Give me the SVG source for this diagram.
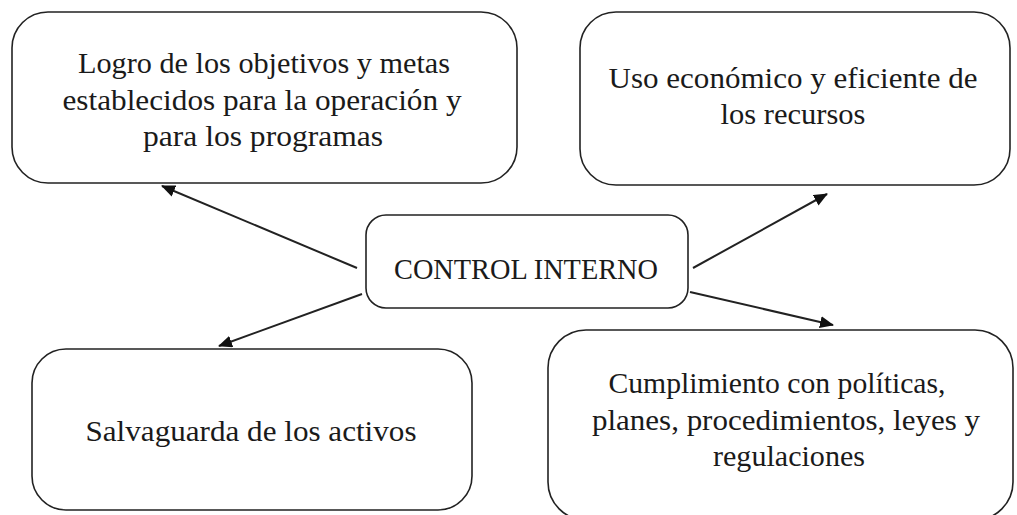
<svg xmlns="http://www.w3.org/2000/svg" width="1017" height="515" viewBox="0 0 1017 515">
<defs>
<style>
.box{fill:#fff;stroke:#222;stroke-width:1.6}
.t{font-family:"Liberation Serif","DejaVu Serif",serif;font-size:29px;fill:#1a1a1a;text-anchor:middle}
.c{stroke:#222;stroke-width:2;fill:none;marker-end:url(#ah)}
</style>
<marker id="ah" viewBox="0 0 14 12" refX="13" refY="6" markerWidth="14" markerHeight="12" markerUnits="userSpaceOnUse" orient="auto">
<path d="M0,0 L14,6 L0,12 z" fill="#111"/>
</marker>
</defs>
<rect width="1017" height="515" fill="#fff"/>
<g id="node-logro">
<rect class="box" x="12" y="12" width="505" height="171" rx="36"/>
<text class="t" x="264" y="73" textLength="372" lengthAdjust="spacingAndGlyphs">Logro de los objetivos y metas</text>
<text class="t" x="262" y="110" textLength="399" lengthAdjust="spacingAndGlyphs">establecidos para la operación y</text>
<text class="t" x="263" y="146" textLength="240" lengthAdjust="spacingAndGlyphs">para los programas</text>
</g>
<g id="node-uso">
<rect class="box" x="580" y="12" width="430" height="173" rx="36"/>
<text class="t" x="793" y="88" textLength="369" lengthAdjust="spacingAndGlyphs">Uso económico y eficiente de</text>
<text class="t" x="793" y="124" textLength="145" lengthAdjust="spacingAndGlyphs">los recursos</text>
</g>
<g id="node-control">
<rect class="box" x="366" y="215" width="322" height="93" rx="20"/>
<text class="t" x="526" y="279" textLength="264" lengthAdjust="spacingAndGlyphs">CONTROL INTERNO</text>
</g>
<g id="node-salvaguarda">
<rect class="box" x="32" y="349" width="440" height="161" rx="34"/>
<text class="t" x="251" y="441" textLength="331" lengthAdjust="spacingAndGlyphs">Salvaguarda de los activos</text>
</g>
<g id="node-cumplimiento">
<rect class="box" x="548" y="330" width="465" height="190" rx="38"/>
<text class="t" x="777" y="393" textLength="337" lengthAdjust="spacingAndGlyphs">Cumplimiento con políticas,</text>
<text class="t" x="786" y="430" textLength="388" lengthAdjust="spacingAndGlyphs">planes, procedimientos, leyes y</text>
<text class="t" x="789" y="466" textLength="152" lengthAdjust="spacingAndGlyphs">regulaciones</text>
</g>
<g id="connectors">
<line class="c" x1="357" y1="268" x2="162" y2="186"/>
<line class="c" x1="693" y1="268" x2="827" y2="194"/>
<line class="c" x1="362" y1="294" x2="219" y2="346"/>
<line class="c" x1="690" y1="292" x2="833" y2="325"/>
</g>
</svg>
